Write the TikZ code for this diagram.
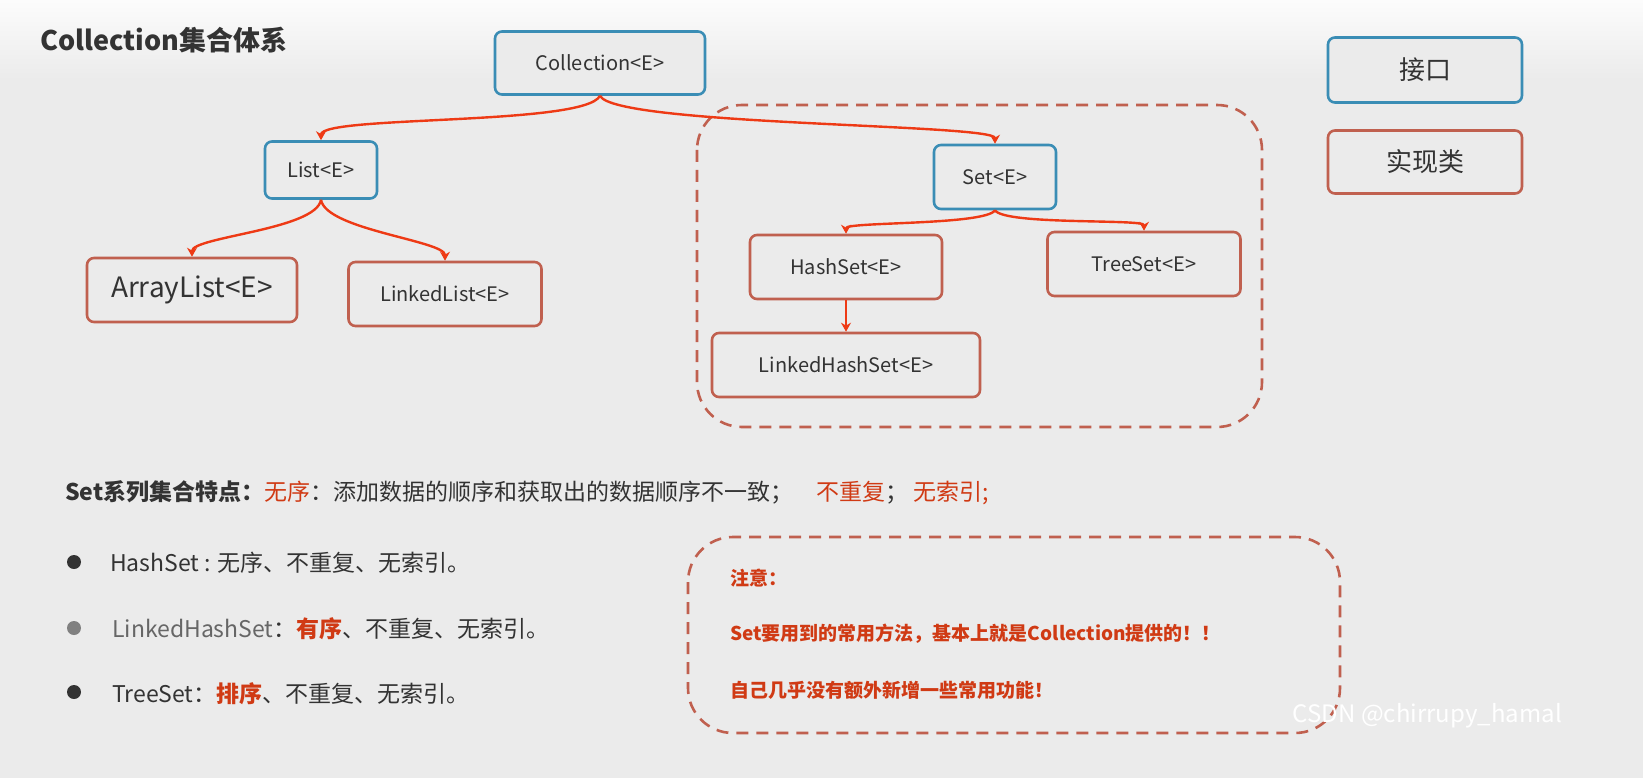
\documentclass[tikz,border=0pt]{standalone}
\usepackage{fontspec}
\setmainfont{Noto Sans CJK SC}
\usetikzlibrary{arrows.meta}
\definecolor{bg}{HTML}{EBEBEB}
\definecolor{ifc}{HTML}{3A8DB5}
\definecolor{cls}{HTML}{C0604F}
\definecolor{arr}{HTML}{EE3A15}
\definecolor{txt}{HTML}{333333}
\definecolor{rtx}{HTML}{D03A14}
\tikzset{
  box/.style={draw, line width=2.6pt, rounded corners=7pt, fill=bg, text=txt, font=\fontsize{20}{24}\selectfont, inner sep=0pt},
  ibox/.style={box, draw=ifc},
  cbox/.style={box, draw=cls},
  link/.style={draw=arr, line width=2.4pt, -{Stealth[length=9pt,width=10pt]}},
  dbox/.style={draw=cls, line width=2.6pt, dash pattern=on 12pt off 8pt, rounded corners=45pt},
  para/.style={anchor=west, text=txt, font=\fontsize{23}{28}\selectfont, inner sep=0pt}
}
\begin{document}
\begin{tikzpicture}[x=1pt,y=-1pt]
\fill[bg] (0,0) rectangle (1643,778);
\shade[top color=white!85!bg, bottom color=bg] (0,0) rectangle (1643,80);
\node[anchor=west, text=txt, font=\fontsize{27}{30}\selectfont\bfseries, inner sep=0pt] (title) at (40,40) {Collection集合体系};
\draw[dbox] (697,105) rectangle (1262,427);
\node[ibox, minimum width=210pt, minimum height=63pt] (coll) at (600,63) {Collection<E>};
\node[ibox, minimum width=112pt, minimum height=57pt] (list) at (321,170) {List<E>};
\node[cbox, minimum width=210pt, minimum height=64pt, font=\fontsize{28}{32}\selectfont] (al) at (192,290) {ArrayList<E>};
\node[cbox, minimum width=193pt, minimum height=64pt] (ll) at (445,294) {LinkedList<E>};
\node[ibox, minimum width=122pt, minimum height=64pt] (set) at (995,177) {Set<E>};
\node[cbox, minimum width=192pt, minimum height=64pt] (hs) at (846,267) {HashSet<E>};
\node[cbox, minimum width=193pt, minimum height=64pt] (ts) at (1144,264) {TreeSet<E>};
\node[cbox, minimum width=268pt, minimum height=64pt] (lhs) at (846,365) {LinkedHashSet<E>};
\node[ibox, minimum width=194pt, minimum height=65pt, font=\fontsize{26}{30}\selectfont] (jk) at (1425,70) {接口};
\node[cbox, minimum width=194pt, minimum height=63pt, font=\fontsize{26}{30}\selectfont] (sxl) at (1425,162) {实现类};
\draw[link] (coll.south) .. controls +(-15,30) and +(0,-25) .. (list.north);
\draw[link] (coll.south) .. controls +(15,30) and +(0,-20) .. (set.north);
\draw[link] (list.south) .. controls +(-5,30) and +(0,-20) .. (al.north);
\draw[link] (list.south) .. controls +(5,30) and +(0,-20) .. (ll.north);
\draw[link] (set.south) .. controls +(-10,15) and +(0,-12) .. (hs.north);
\draw[link] (set.south) .. controls +(10,15) and +(0,-12) .. (ts.north);
\draw[link] (hs.south) -- (lhs.north);
\node[para] (feat) at (65,493) {\textbf{Set系列集合特点：}\textcolor{rtx}{无序}：添加数据的顺序和获取出的数据顺序不一致；\quad\textcolor{rtx}{不重复}；\ \textcolor{rtx}{无索引;}};
\fill[txt] (74,562) circle (7pt);
\fill[gray] (74,628) circle (7pt);
\fill[txt] (74,692) circle (7pt);
\node[para] (b1) at (110,563) {HashSet : 无序、不重复、无索引。};
\node[para] (b2) at (112,629) {\textcolor{gray!80!black}{LinkedHashSet}：\textcolor{rtx}{\textbf{有序}}、不重复、无索引。};
\node[para] (b3) at (112,694) {TreeSet：\textcolor{rtx}{\textbf{排序}}、不重复、无索引。};
\draw[dbox] (688,537) rectangle (1340,733);
\node[anchor=west, text=rtx, font=\fontsize{19}{22}\selectfont\bfseries, inner sep=0pt] (n1) at (730,578) {注意：};
\node[anchor=west, text=rtx, font=\fontsize{19}{22}\selectfont\bfseries, inner sep=0pt] (n2) at (730,634) {Set要用到的常用方法，基本上就是Collection提供的！！};
\node[anchor=west, text=rtx, font=\fontsize{19}{22}\selectfont\bfseries, inner sep=0pt] (n3) at (730,690) {自己几乎没有额外新增一些常用功能！};
\node[anchor=east, text=white, font=\fontsize{24}{28}\selectfont, inner sep=0pt] (wm) at (1562,716) {CSDN @chirrupy\_hamal};
\pgfresetboundingbox
\useasboundingbox (0,0) rectangle (1643,778);
\end{tikzpicture}
\end{document}
